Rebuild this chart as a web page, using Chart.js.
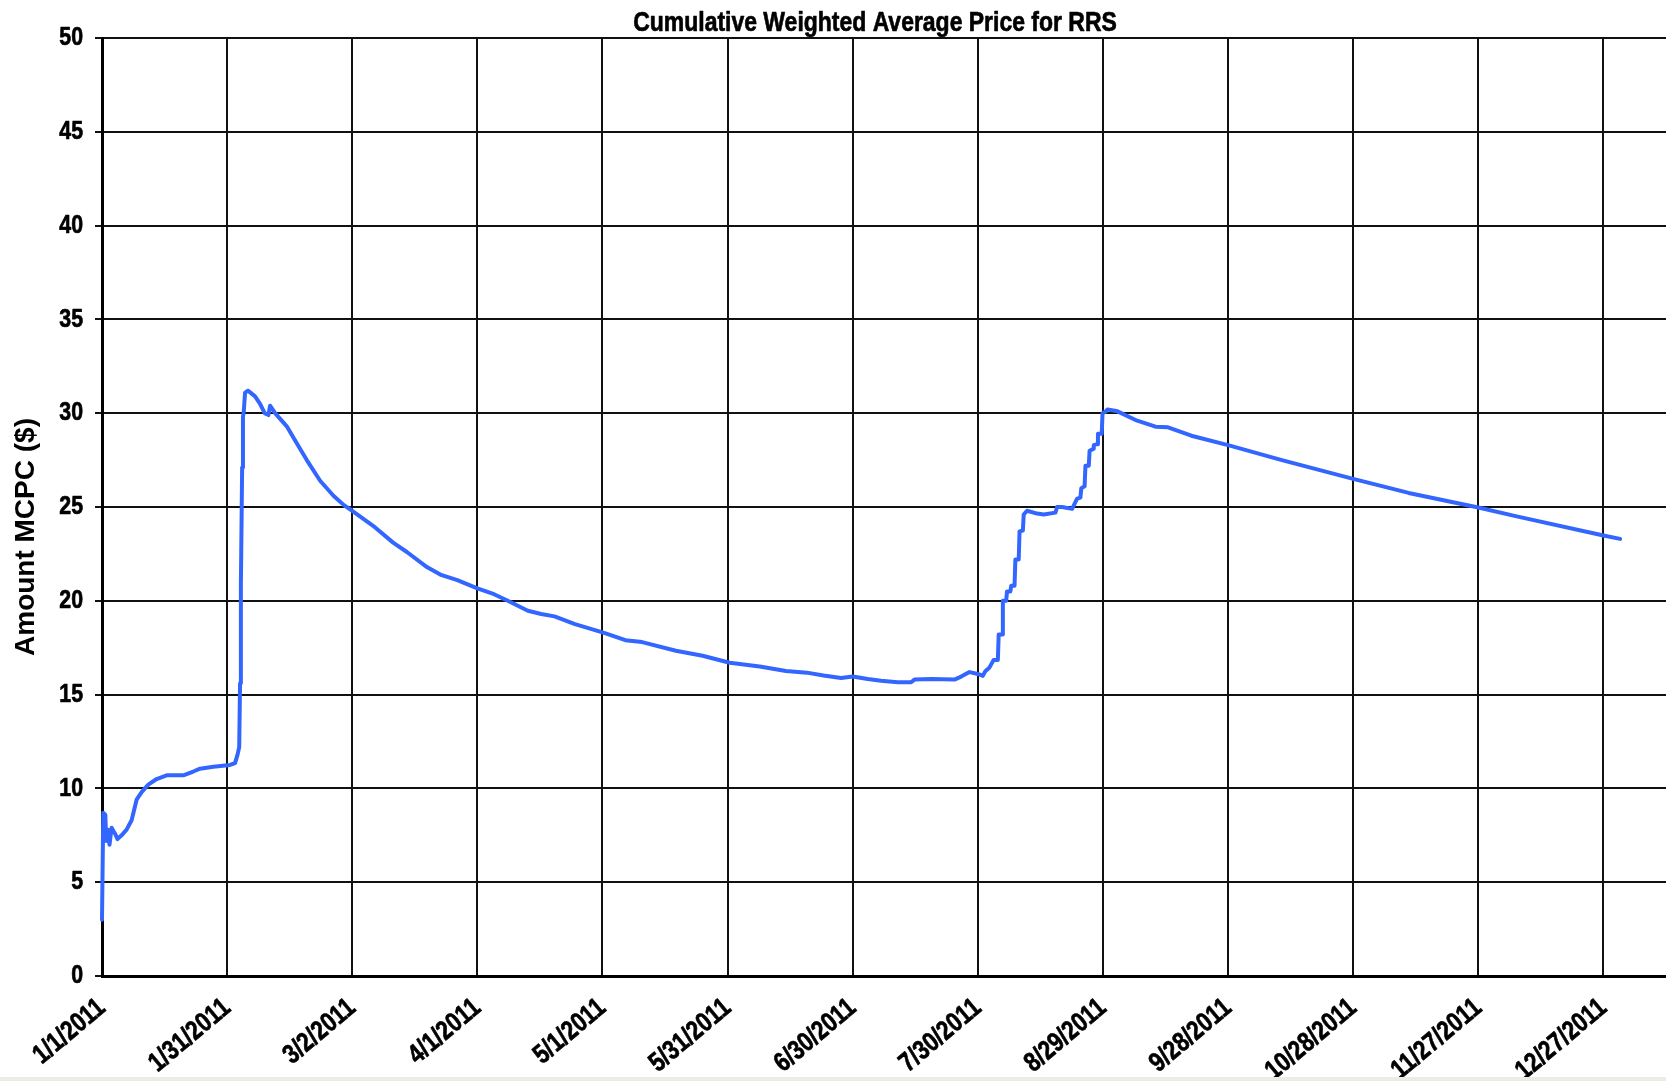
<!DOCTYPE html>
<html>
<head>
<meta charset="utf-8">
<script src="https://cdn.jsdelivr.net/npm/chart.js@4.4.1/dist/chart.umd.min.js"></script>
<style>
  html, body { margin: 0; padding: 0; background: #ECECE4; }
  #wrap { width: 1666px; height: 1077px; background: #ffffff; }
  canvas { display: block; background: #ffffff; }
</style>
</head>
<body>
<div id="wrap"><canvas id="c" width="1666" height="1077"></canvas></div>
<script>
// ---- data (day offset from 1/1/2011, cumulative weighted average price $) ----
const chartTitle = 'Cumulative Weighted Average Price for RRS';
const yAxisTitle = 'Amount MCPC ($)';
const seriesName = 'RRS';

const days = [
  0, 0.3, 0.8, 1.0, 1.4, 1.8, 2.3, 3.1, 3.7, 4.7, 5.9, 7.1, 8.3, 9.5, 11.1, 13.1, 15.5, 19.5,
  21.9, 23.5, 26.7, 30.7, 31.9, 32.5, 32.9, 33.1, 33.3, 33.6, 33.8, 34.0, 34.3, 35.0, 36.7,
  37.9, 39.0, 39.9, 40.3, 41.5, 44.3, 46.7, 49.1, 52.3, 55.5, 58, 60, 65, 69.8, 73.1, 77.9, 81.1, 85.2,
  90, 94, 97.3, 102.1, 105.3, 108.5, 113.4, 120.2, 125.5, 129.5, 137.6, 144, 150.5, 157.7,
  164, 169, 173, 177.2, 180, 183.6, 186.8, 190.8, 194, 194.8, 198.8, 204.4, 206, 208, 210,
  211.2, 211.8, 212.8, 213.8, 214.8, 215.0, 215.8, 216.0, 216.8, 217.0, 217.8, 218.0, 218.8,
  219.0, 219.8, 220.0, 220.8, 221.0, 221.8, 224.2, 225.8, 228.6, 229.0, 230.2, 232.6, 233.8,
  234.6, 234.8, 235.6, 235.8, 236.6, 236.8, 237.7, 237.8, 238.6, 238.8, 239.7, 239.9, 240.7,
  241.1, 243.5, 248.2, 252.6, 255.6, 261.2, 270, 282.9, 300, 313.3, 330, 339.2, 360, 364
];
const prices = [
  3.0, 8.7, 8.6, 7.2, 7.8, 7.0, 7.9, 7.6, 7.3, 7.5, 7.8, 8.3, 9.4, 9.8, 10.2, 10.5, 10.7, 10.7,
  10.9, 11.05, 11.15, 11.25, 11.35, 11.8, 12.2, 15.6, 20.9, 27.1, 29.8, 30.1, 31.1, 31.2, 30.9,
  30.5, 30.0, 29.9, 30.4, 30.0, 29.3, 28.4, 27.5, 26.4, 25.6, 25.1, 24.8, 24.0, 23.1, 22.6, 21.8, 21.4, 21.1,
  20.66, 20.35, 20.0, 19.47, 19.3, 19.17, 18.76, 18.3, 17.9, 17.8, 17.34, 17.07, 16.7, 16.5,
  16.26, 16.17, 16.02, 15.89, 15.96, 15.83, 15.74, 15.66, 15.66, 15.8, 15.83, 15.8, 15.96, 16.2, 16.1,
  16.0, 16.25, 16.45, 16.85, 16.85, 18.2, 18.2, 20.0, 20.0, 20.5, 20.5, 20.8, 20.8,
  22.2, 22.2, 23.7, 23.75, 24.6, 24.8, 24.65, 24.6, 24.7, 25.0, 25.0, 24.9, 25.45,
  25.5, 26.0, 26.1, 27.2, 27.2, 28.0, 28.1, 28.3, 28.35, 28.9, 28.9, 30.0, 30.1,
  30.2, 30.1, 29.6, 29.28, 29.25, 28.8, 28.3, 27.5, 26.5, 25.75, 24.97, 24.5, 23.48, 23.3
];

const xTickValues = [0, 30, 60, 90, 120, 150, 180, 210, 240, 270, 300, 330, 360];
const xTickLabels = ['1/1/2011', '1/31/2011', '3/2/2011', '4/1/2011', '5/1/2011', '5/31/2011',
  '6/30/2011', '7/30/2011', '8/29/2011', '9/28/2011', '10/28/2011', '11/27/2011', '12/27/2011'];
const yTickValues = [0, 5, 10, 15, 20, 25, 30, 35, 40, 45, 50];

// ---- fonts: no narrow face installed, so Liberation Sans Bold is drawn horizontally condensed ----
const SANS = "'Liberation Sans', Arial, sans-serif";
const NARROW_X = 0.82;

const canvas = document.getElementById('c');
const ctx = canvas.getContext('2d');
const origFill = ctx.fillText.bind(ctx);
const origStroke = ctx.strokeText.bind(ctx);
const origMeasure = ctx.measureText.bind(ctx);
ctx.fillText = function (text, x, y, maxWidth) {
  this.save();
  this.translate(x, y);
  this.scale(NARROW_X, 1);
  this.strokeStyle = this.fillStyle;
  this.lineWidth = 0.7;
  this.lineJoin = 'round';
  if (maxWidth !== undefined) {
    origFill(text, 0, 0, maxWidth / NARROW_X);
    origStroke(text, 0, 0, maxWidth / NARROW_X);
  } else {
    origFill(text, 0, 0);
    origStroke(text, 0, 0);
  }
  this.restore();
};
ctx.measureText = function (text) {
  const m = origMeasure(text);
  return {
    width: m.width * NARROW_X,
    actualBoundingBoxAscent: m.actualBoundingBoxAscent,
    actualBoundingBoxDescent: m.actualBoundingBoxDescent,
    actualBoundingBoxLeft: m.actualBoundingBoxLeft * NARROW_X,
    actualBoundingBoxRight: m.actualBoundingBoxRight * NARROW_X,
    fontBoundingBoxAscent: m.fontBoundingBoxAscent,
    fontBoundingBoxDescent: m.fontBoundingBoxDescent
  };
};

const textPlugin = {
  id: 'texts',
  afterDraw(chart) {
    const c = chart.ctx;
    c.save();
    c.fillStyle = '#000';
    c.font = "bold 28px " + SANS;
    c.textAlign = 'center';
    c.textBaseline = 'alphabetic';
    c.fillText(chartTitle, 875, 31);          // condensed
    c.translate(34, 537);
    c.rotate(-Math.PI / 2);
    c.font = "bold 28px " + SANS;
    origFill(yAxisTitle, 0, 0);               // normal width
    c.restore();
  }
};

const points = days.map((d, i) => ({ x: d, y: prices[i] }));

new Chart(canvas, {
  type: 'line',
  data: {
    datasets: [{
      label: seriesName,
      data: points,
      borderColor: '#3366FF',
      backgroundColor: '#3366FF',
      borderWidth: 4,
      borderJoinStyle: 'round',
      borderCapStyle: 'round',
      pointRadius: 0,
      tension: 0,
      fill: false,
      clip: false
    }]
  },
  options: {
    responsive: false,
    animation: false,
    devicePixelRatio: 1,
    layout: { padding: { top: 38, right: 0, left: 0, bottom: 0 } },
    plugins: {
      legend: { display: false },
      title: { display: false },
      tooltip: { enabled: false }
    },
    scales: {
      x: {
        type: 'linear',
        min: 0,
        max: 375,
        afterFit(s) { s.height = 101; },
        afterBuildTicks(s) { s.ticks = xTickValues.map(v => ({ value: v })); },
        grid: { color: '#111', lineWidth: 2, drawTicks: false },
        border: { color: '#000', width: 3 },
        ticks: {
          autoSkip: false,
          minRotation: 40,
          maxRotation: 40,
          padding: 16,
          color: '#000',
          font: { family: SANS, size: 27, weight: 'bold' },
          callback(v, i) { return xTickLabels[i]; }
        }
      },
      y: {
        type: 'linear',
        min: 0,
        max: 50,
        afterFit(s) { s.width = 102; },
        afterBuildTicks(s) { s.ticks = yTickValues.map(v => ({ value: v })); },
        grid: { color: '#111', lineWidth: 2, drawTicks: true, tickLength: 7 },
        border: { color: '#000', width: 3 },
        ticks: {
          padding: 12,
          color: '#000',
          font: { family: SANS, size: 26, weight: 'bold' }
        }
      }
    }
  },
  plugins: [textPlugin]
});
</script>
</body>
</html>
